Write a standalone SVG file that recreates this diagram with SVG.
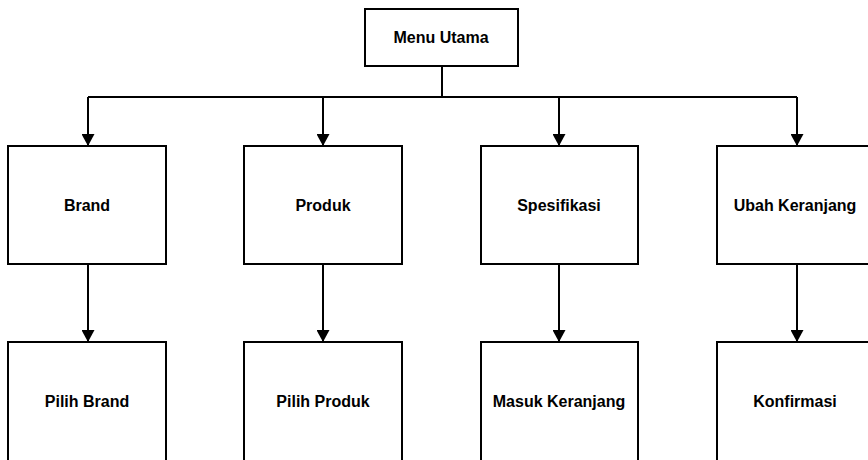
<svg xmlns="http://www.w3.org/2000/svg" width="868" height="460" viewBox="0 0 868 460">
  <style>
    .box { fill: #ffffff; stroke: #000000; stroke-width: 2; }
    .lbl { font-family: "Liberation Sans", Arial, sans-serif; font-weight: bold; font-size: 16px; fill: #000000; text-anchor: middle; }
    .wire { fill: none; stroke: #000000; stroke-width: 2; }
  </style>
  <defs>
    <marker id="tip" markerWidth="13" markerHeight="13" refX="12" refY="6.5" orient="auto" markerUnits="userSpaceOnUse" viewBox="0 0 13 13">
      <path d="M0,0 L12,6.5 L0,13 Z" fill="#000000"/>
    </marker>
  </defs>
  <rect width="868" height="460" fill="#ffffff"/>

  <g id="connectors">
    <path class="wire" d="M442,66 V97"/>
    <path class="wire" d="M88,97 H797"/>
    <path class="wire" d="M88,97 V146" marker-end="url(#tip)"/>
    <path class="wire" d="M323,97 V146" marker-end="url(#tip)"/>
    <path class="wire" d="M559,97 V146" marker-end="url(#tip)"/>
    <path class="wire" d="M797,97 V146" marker-end="url(#tip)"/>
    <path class="wire" d="M88,264 V342" marker-end="url(#tip)"/>
    <path class="wire" d="M323,264 V342" marker-end="url(#tip)"/>
    <path class="wire" d="M559,264 V342" marker-end="url(#tip)"/>
    <path class="wire" d="M797,264 V342" marker-end="url(#tip)"/>
  </g>

  <g id="menu-utama">
    <rect class="box" x="365" y="9" width="153" height="57"/>
    <text class="lbl" x="441" y="43">Menu Utama</text>
  </g>

  <g id="brand">
    <rect class="box" x="8" y="146" width="158" height="118"/>
    <text class="lbl" x="87" y="211">Brand</text>
  </g>
  <g id="produk">
    <rect class="box" x="244" y="146" width="158" height="118"/>
    <text class="lbl" x="323" y="211">Produk</text>
  </g>
  <g id="spesifikasi">
    <rect class="box" x="481" y="146" width="157" height="118"/>
    <text class="lbl" x="559" y="211">Spesifikasi</text>
  </g>
  <g id="ubah-keranjang">
    <rect class="box" x="717" y="146" width="160" height="118"/>
    <text class="lbl" x="795" y="211">Ubah Keranjang</text>
  </g>

  <g id="pilih-brand">
    <rect class="box" x="8" y="342" width="158" height="130"/>
    <text class="lbl" x="87" y="407">Pilih Brand</text>
  </g>
  <g id="pilih-produk">
    <rect class="box" x="244" y="342" width="158" height="130"/>
    <text class="lbl" x="323" y="407">Pilih Produk</text>
  </g>
  <g id="masuk-keranjang">
    <rect class="box" x="481" y="342" width="157" height="130"/>
    <text class="lbl" x="559" y="407">Masuk Keranjang</text>
  </g>
  <g id="konfirmasi">
    <rect class="box" x="717" y="342" width="160" height="130"/>
    <text class="lbl" x="795" y="407">Konfirmasi</text>
  </g>
</svg>
